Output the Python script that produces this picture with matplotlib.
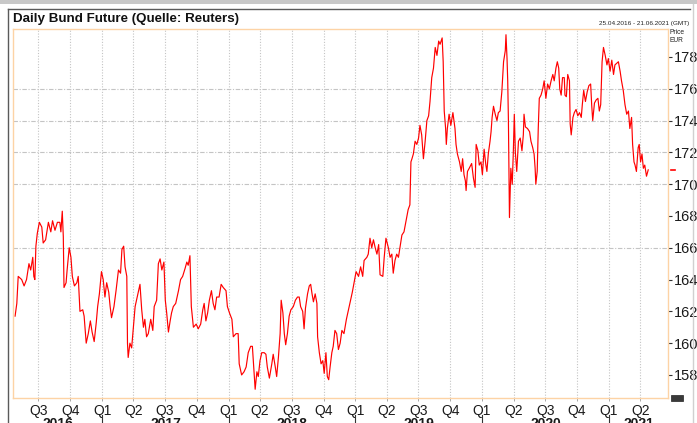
import numpy as np
import matplotlib
matplotlib.use("Agg")
import matplotlib.pyplot as plt
import matplotlib.transforms as mtransforms
from matplotlib.patches import Rectangle
from matplotlib.lines import Line2D

# daily bund future (days after 25.04.2016, price in EUR)
start = np.datetime64("2016-04-25")
end = np.datetime64("2021-06-21")
day_offsets = [
    0, 5, 9, 19, 26, 33, 40, 45, 51, 54, 57, 60, 64, 70, 77, 81, 88, 96, 103, 108,
    115, 122, 129, 132, 136, 139, 141, 147, 150, 156, 161, 165, 171, 178, 182, 187, 195, 199, 205, 211,
    217, 222, 228, 234, 238, 243, 249, 254, 259, 264, 270, 274, 278, 285, 291, 298, 304, 308, 313, 317,
    322, 324, 326, 331, 336, 341, 346, 352, 360, 365, 370, 374, 379, 384, 391, 397, 401, 408, 413, 418,
    423, 429, 433, 437, 442, 447, 451, 456, 463, 471, 477, 483, 490, 495, 499, 504, 508, 514, 522, 528,
    535, 541, 545, 550, 555, 560, 566, 571, 576, 581, 588, 594, 600, 608, 612, 618, 625, 629, 637, 643,
    646, 653, 660, 666, 672, 679, 684, 689, 692, 697, 701, 706, 711, 718, 723, 727, 733, 740, 744, 750,
    754, 759, 764, 767, 772, 776, 780, 785, 790, 795, 802, 808, 814, 819, 823, 829, 833, 837, 843, 848,
    852, 856, 860, 865, 870, 872, 877, 882, 887, 891, 896, 900, 904, 908, 913, 917, 922, 927, 932, 937,
    942, 948, 955, 963, 972, 977, 983, 990, 996, 1002, 1006, 1014, 1018, 1023, 1028, 1033, 1038, 1043, 1048, 1052,
    1060, 1064, 1069, 1076, 1081, 1086, 1090, 1095, 1100, 1105, 1110, 1115, 1121, 1127, 1133, 1138, 1141, 1144, 1148, 1153,
    1158, 1163, 1167, 1172, 1177, 1182, 1187, 1192, 1196, 1201, 1206, 1211, 1216, 1221, 1225, 1231, 1234, 1237, 1241, 1243,
    1246, 1251, 1256, 1262, 1268, 1271, 1275, 1281, 1286, 1290, 1294, 1298, 1300, 1304, 1309, 1316, 1321, 1326, 1329, 1334,
    1338, 1343, 1347, 1352, 1357, 1360, 1364, 1369, 1372, 1375, 1379, 1384, 1389, 1393, 1398, 1403, 1408, 1413, 1415, 1418,
    1420, 1422, 1425, 1429, 1433, 1436, 1439, 1442, 1446, 1451, 1456, 1461, 1465, 1467, 1471, 1477, 1483, 1487, 1492, 1496,
    1499, 1501, 1505, 1508, 1511, 1516, 1521, 1525, 1530, 1535, 1540, 1545, 1550, 1554, 1559, 1563, 1567, 1570, 1574, 1578,
    1583, 1585, 1589, 1593, 1598, 1600, 1603, 1608, 1612, 1617, 1622, 1627, 1632, 1635, 1639, 1644, 1649, 1654, 1659, 1662,
    1665, 1670, 1675, 1680, 1684, 1688, 1692, 1696, 1701, 1706, 1710, 1715, 1720, 1725, 1729, 1734, 1739, 1744, 1748, 1753,
    1758, 1763, 1768, 1772, 1777, 1780, 1784, 1787, 1791, 1796, 1799, 1803, 1807, 1811, 1815, 1820, 1825,
]
price = [
    161.7, 162.5, 164.2, 164.0, 163.6, 164.0, 165.0, 164.6, 165.4, 164.2, 164.0, 166.1, 166.9, 167.6, 167.3, 166.3, 166.5, 167.6, 167.0, 167.7,
    167.1, 167.6, 167.6, 167.0, 168.3, 166.7, 163.5, 163.8, 164.6, 166.0, 165.4, 164.2, 163.6, 163.8, 164.2, 162.0, 162.1, 161.7, 160.0, 160.6,
    161.4, 160.7, 160.1, 161.3, 162.3, 163.1, 164.5, 164.0, 162.9, 163.8, 163.2, 162.3, 161.6, 162.3, 163.3, 164.6, 164.4, 165.9, 166.1, 164.8,
    164.2, 160.0, 159.1, 160.0, 159.7, 161.0, 162.3, 162.9, 163.7, 162.1, 161.0, 161.5, 160.4, 160.6, 161.5, 160.8, 162.3, 162.7, 165.0, 165.3,
    164.6, 165.1, 162.7, 161.9, 160.7, 161.4, 161.9, 162.3, 162.5, 163.3, 164.0, 164.2, 164.7, 165.1, 164.9, 165.5, 162.3, 161.0, 161.2, 160.9,
    161.2, 162.1, 162.5, 161.4, 161.9, 162.7, 163.3, 162.5, 162.1, 162.9, 162.9, 163.7, 163.5, 163.3, 162.3, 161.9, 161.5, 160.4, 160.6, 160.6,
    158.7, 158.0, 158.2, 158.5, 159.4, 159.8, 159.8, 158.1, 157.1, 158.2, 157.9, 158.9, 159.4, 159.4, 159.3, 158.5, 157.8, 158.7, 159.3, 158.5,
    157.9, 159.1, 160.6, 162.7, 161.9, 160.6, 159.9, 160.6, 161.7, 162.1, 162.3, 162.7, 162.9, 162.9, 162.3, 162.0, 160.9, 162.2, 163.1, 163.6,
    163.7, 163.1, 162.6, 163.1, 162.5, 160.4, 159.4, 158.7, 158.9, 158.1, 159.4, 157.9, 157.7, 158.5, 159.4, 159.8, 160.8, 160.6, 159.6, 160.0,
    160.8, 160.6, 161.5, 162.3, 163.2, 163.8, 164.5, 164.2, 164.8, 164.2, 165.2, 165.4, 165.6, 166.6, 166.0, 166.5, 166.0, 165.6, 166.2, 164.3,
    164.2, 165.4, 166.6, 166.0, 165.4, 165.6, 164.4, 165.2, 165.6, 165.4, 166.1, 166.8, 167.0, 167.7, 168.4, 168.7, 171.4, 171.6, 171.9, 172.7,
    172.5, 172.9, 173.7, 173.1, 171.6, 172.7, 174.0, 174.3, 175.2, 176.7, 177.3, 178.6, 178.1, 179.0, 178.8, 179.2, 177.7, 174.6, 173.5, 172.5,
    173.5, 174.4, 173.7, 174.5, 173.5, 172.5, 171.9, 171.4, 170.8, 171.6, 170.6, 170.2, 169.6, 170.8, 171.0, 171.3, 170.4, 169.8, 172.5, 172.1,
    171.2, 171.4, 170.6, 172.2, 171.2, 170.8, 171.9, 172.7, 173.3, 174.2, 174.9, 174.4, 174.0, 174.5, 174.6, 175.8, 177.7, 178.4, 179.4, 177.9,
    176.5, 174.0, 167.9, 171.0, 170.0, 171.9, 174.4, 172.0, 170.8, 172.7, 172.9, 172.1, 173.1, 174.4, 173.6, 173.5, 173.3, 172.7, 172.3, 171.9,
    171.0, 170.0, 170.8, 173.5, 175.4, 175.6, 176.0, 176.5, 175.4, 176.3, 176.0, 176.5, 176.9, 176.5, 177.3, 177.7, 177.3, 176.0, 175.6, 176.7,
    176.7, 175.6, 175.5, 176.9, 176.5, 173.8, 173.1, 174.2, 174.5, 174.7, 174.3, 174.5, 174.2, 175.0, 175.9, 175.2, 175.8, 176.2, 176.3, 175.0,
    174.0, 175.1, 175.3, 175.4, 174.6, 175.0, 177.7, 178.6, 178.1, 177.5, 177.9, 177.1, 177.8, 176.9, 177.5, 177.6, 177.7, 177.1, 176.5, 175.9,
    175.0, 174.4, 174.6, 173.5, 174.2, 172.5, 171.4, 171.2, 170.8, 172.3, 172.5, 171.4, 171.9, 171.0, 171.2, 170.5, 170.9,
]
y_ticks = [158, 160, 162, 164, 166, 168, 170, 172, 174, 176, 178]
grid_levels = [166, 170, 172, 174, 176]
quarter_starts = ["2016-07-01", "2016-10-01", "2017-01-01", "2017-04-01", "2017-07-01", "2017-10-01",
                  "2018-01-01", "2018-04-01", "2018-07-01", "2018-10-01", "2019-01-01", "2019-04-01",
                  "2019-07-01", "2019-10-01", "2020-01-01", "2020-04-01", "2020-07-01", "2020-10-01",
                  "2021-01-01", "2021-04-01"]
years = [2016, 2017, 2018, 2019, 2020, 2021]

dates = start + np.array(day_offsets).astype("timedelta64[D]")
qdates = np.array(quarter_starts, dtype="datetime64[D]")
qlabels = ["Q%d" % ((int(str(q)[5:7]) - 1) // 3 + 1) for q in quarter_starts]

W, H = 697, 423
fig = plt.figure(figsize=(W / 100, H / 100), dpi=100)
fig.patch.set_facecolor("white")

# frame around the panel
fig.add_artist(Rectangle((0, 1 - 4 / H), 1, 4 / H, transform=fig.transFigure,
                         facecolor="#c8c8c8", edgecolor="none"))
fig.add_artist(Line2D([8 / W, 8 / W], [0, 1 - 9 / H], transform=fig.transFigure, color="#5a5a5a", lw=1))
fig.add_artist(Line2D([8 / W, 690 / W], [1 - 9 / H, 1 - 9 / H], transform=fig.transFigure, color="#5a5a5a", lw=1))
fig.add_artist(Line2D([693 / W, 693 / W], [0, 1 - 4 / H], transform=fig.transFigure, color="#d0d0d0", lw=1))
# little logo box under the price scale
fig.add_artist(Rectangle((671 / W, 1 - 401 / H), 12 / W, 6 / H, transform=fig.transFigure,
                         facecolor="#3a3a3a", edgecolor="#222222", lw=0.5))

ax = fig.add_axes([13 / W, 25 / H, 655 / W, 369 / H])
narrow = ["Liberation Sans Narrow", "Liberation Sans", "DejaVu Sans"]

ax.plot(dates, price, color="#ff0000", lw=0.85)
# last price marker on the right
ax.plot([1.004, 1.010], [price[-1], price[-1]], color="#ff0000", lw=1.2,
        transform=mtransforms.blended_transform_factory(ax.transAxes, ax.transData), clip_on=False)

ax.set_xlim(start - np.timedelta64(6, "D"), start + np.timedelta64(1882, "D"))
ax.set_ylim(156.55, 179.76)

for g in grid_levels:
    ax.axhline(g, color="#c4c4c4", lw=0.8, ls=(0, (4, 1.5, 1, 1.5)), zorder=0)
for q in qdates:
    ax.axvline(q, color="#c4c4c4", lw=0.8, ls=(0, (1, 1.5)), zorder=0)

for s in ax.spines.values():
    s.set_color("#fdd3a5")
    s.set_linewidth(1)

ax.yaxis.tick_right()
ax.set_yticks(y_ticks)
ax.set_yticklabels([str(v) for v in y_ticks], fontsize=10.5, family=narrow, color="#1a1a1a")
ax.tick_params(axis="y", length=3, width=0.8, color="#333333", pad=1)

ax.set_xticks(qdates)
ax.set_xticklabels(qlabels, fontsize=10, family=narrow, color="#1a1a1a")
ax.tick_params(axis="x", length=2, width=0.6, color="#999999", pad=2)

# year labels and separators under the quarters
xmin, xmax = ax.get_xlim()
for yr in years:
    y0 = matplotlib.dates.date2num(np.datetime64("%d-01-01" % yr))
    y1 = matplotlib.dates.date2num(np.datetime64("%d-01-01" % (yr + 1)))
    mid = (max(y0, xmin) + min(y1, xmax)) / 2
    ax.annotate(str(yr), (mid, 0), xycoords=("data", "axes fraction"), xytext=(0, -19),
                textcoords="offset pixels", ha="center", va="top", fontsize=10,
                fontweight="bold", family=narrow, color="#1a1a1a", annotation_clip=False)
    if y0 > xmin:
        ax.plot([y0, y0], [-0.047, -0.075], color="#333333", lw=0.8,
                transform=mtransforms.blended_transform_factory(ax.transData, ax.transAxes), clip_on=False)

fig.text(13 / W, 1 - 19 / H, "Daily Bund Future (Quelle: Reuters)", fontsize=9.6,
         fontweight="bold", family=["Liberation Sans", "DejaVu Sans"], va="center", color="#111111")
fig.text(689 / W, 1 - 23 / H, "25.04.2016 - 21.06.2021 (GMT)", fontsize=4.6,
         family=["Liberation Sans", "DejaVu Sans"], ha="right", va="center", color="#222222")
fig.text(670 / W, 1 - 32 / H, "Price", fontsize=4.8, family=["Liberation Sans", "DejaVu Sans"],
         va="center", color="#222222")
fig.text(670 / W, 1 - 40 / H, "EUR", fontsize=4.8, family=["Liberation Sans", "DejaVu Sans"],
         va="center", color="#222222")

fig.savefig("out.png", dpi=100)
